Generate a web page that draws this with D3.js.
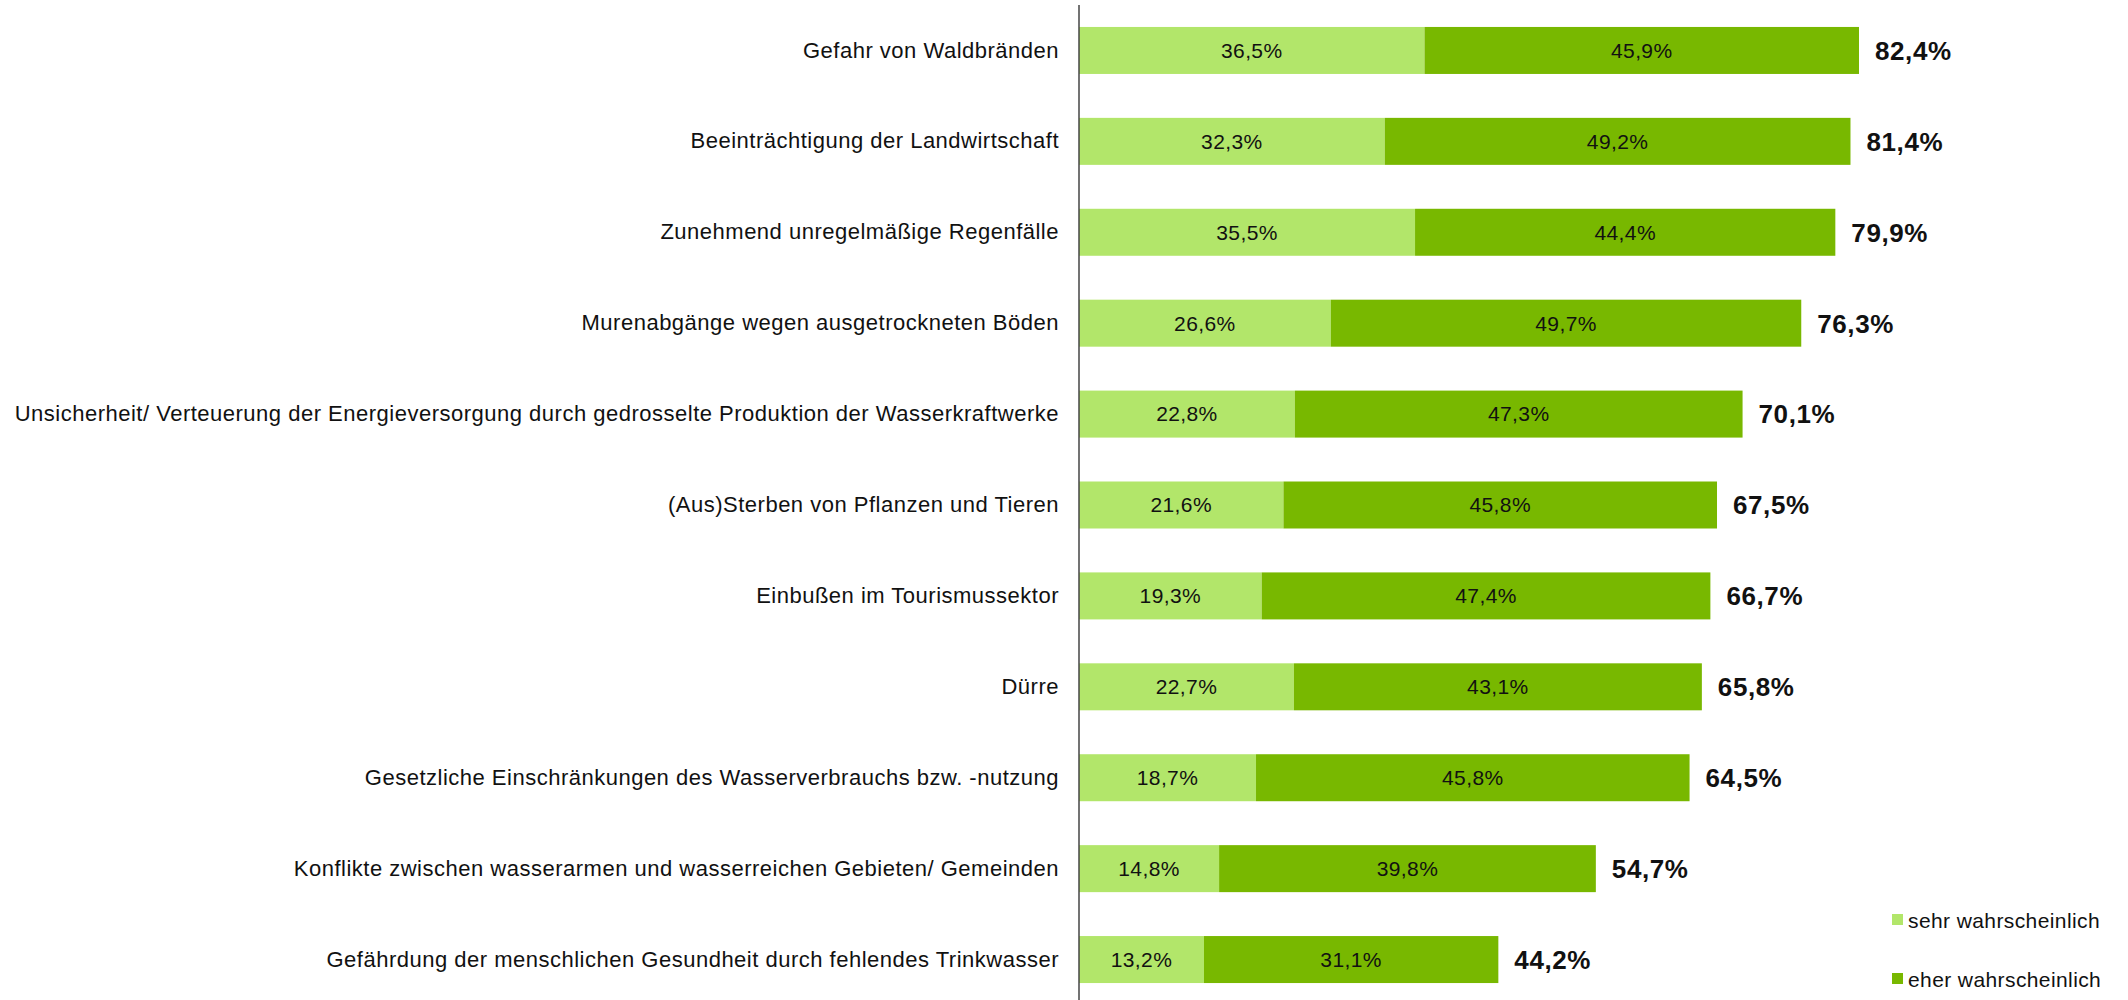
<!DOCTYPE html>
<html><head><meta charset="utf-8">
<script src="https://cdn.jsdelivr.net/npm/d3@7"></script>
<style>body{margin:0;background:#fff}svg{display:block}text{font-family:"Liberation Sans",Arial,sans-serif}</style>
</head><body>
<script>
const categories = [
  "Gefahr von Waldbränden",
  "Beeinträchtigung der Landwirtschaft",
  "Zunehmend unregelmäßige Regenfälle",
  "Murenabgänge wegen ausgetrockneten Böden",
  "Unsicherheit/ Verteuerung der Energieversorgung durch gedrosselte Produktion der Wasserkraftwerke",
  "(Aus)Sterben von Pflanzen und Tieren",
  "Einbußen im Tourismussektor",
  "Dürre",
  "Gesetzliche Einschränkungen des Wasserverbrauchs bzw. -nutzung",
  "Konflikte zwischen wasserarmen und wasserreichen Gebieten/ Gemeinden",
  "Gefährdung der menschlichen Gesundheit durch fehlendes Trinkwasser"
];
const sehr = [36.5, 32.3, 35.5, 26.6, 22.8, 21.6, 19.3, 22.7, 18.7, 14.8, 13.2];
const eher = [45.9, 49.2, 44.4, 49.7, 47.3, 45.8, 47.4, 43.1, 45.8, 39.8, 31.1];
const totals = [82.4, 81.4, 79.9, 76.3, 70.1, 67.5, 66.7, 65.8, 64.5, 54.7, 44.2];
const seriesNames = ["sehr wahrscheinlich", "eher wahrscheinlich"];
const colors = ["#b2e66a", "#78b800"];

const W = 2128, H = 1000;
const fmt = v => d3.format(".1f")(v).replace(".", ",") + "%";

const svg = d3.select("body").append("svg").attr("width", W).attr("height", H);

const x = d3.scaleLinear().domain([0, 100]).range([1079, 2025.6]);
const y = d3.scaleBand().domain(categories).range([5, 1005]).paddingInner(0.483).paddingOuter(0.2415);

const rows = categories.map((c, i) => ({c, s: sehr[i], e: eher[i], t: totals[i]}));

const g = svg.append("g");
g.selectAll("rect.s").data(rows).join("rect")
  .attr("x", d => x(0)).attr("y", d => y(d.c))
  .attr("width", d => x(d.s) - x(0)).attr("height", y.bandwidth())
  .attr("fill", colors[0]);
g.selectAll("rect.e").data(rows).join("rect")
  .attr("x", d => x(d.s)).attr("y", d => y(d.c))
  .attr("width", d => x(d.s + d.e) - x(d.s)).attr("height", y.bandwidth())
  .attr("fill", colors[1]);

const inner = (acc, val, cls) => g.selectAll("text." + cls).data(rows).join("text")
  .attr("class", cls)
  .attr("x", d => (x(acc(d)) + x(acc(d) + val(d))) / 2)
  .attr("y", d => y(d.c) + y.bandwidth() / 2)
  .attr("dy", "0.35em").attr("text-anchor", "middle")
  .style("font-size", "21px").style("letter-spacing", "0.4px").attr("fill", "#111")
  .text(d => fmt(val(d)));
inner(d => 0, d => d.s, "ls");
inner(d => d.s, d => d.e, "le");

g.selectAll("text.tot").data(rows).join("text")
  .attr("x", d => x(d.s + d.e) + 16)
  .attr("y", d => y(d.c) + y.bandwidth() / 2)
  .attr("dy", "0.36em")
  .style("font-size", "26px").style("font-weight", "bold").style("letter-spacing", "0.6px").attr("fill", "#111")
  .text(d => fmt(d.t));

const axis = d3.axisLeft(y).tickSize(0).tickPadding(20);
const ax = svg.append("g").attr("transform", `translate(${x(0)},0)`).call(axis);
ax.select(".domain").remove();
ax.selectAll("text").style("font-size", "22px").style("letter-spacing", "0.5px")
  .style("font-family", '"Liberation Sans",Arial,sans-serif').attr("fill", "#111");
svg.append("line").attr("x1", x(0)).attr("x2", x(0)).attr("y1", 5).attr("y2", 1000)
  .attr("stroke", "#444").attr("stroke-width", 1.5);

const leg = svg.append("g").selectAll("g").data(seriesNames).join("g")
  .attr("transform", (d, i) => `translate(1892,${914 + i * 59})`);
leg.append("rect").attr("width", 11).attr("height", 11).attr("fill", (d, i) => colors[i]);
leg.append("text").attr("x", 16).attr("y", 14)
  .style("font-size", "21px").style("letter-spacing", "0.4px").attr("fill", "#111").text(d => d);
</script>
</body></html>
